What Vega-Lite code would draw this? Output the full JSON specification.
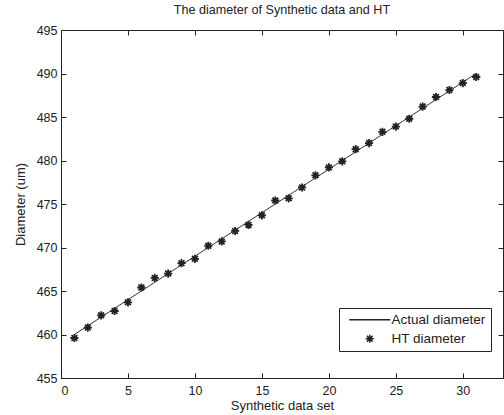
{
  "$schema": "https://vega.github.io/schema/vega-lite/v6.json",
  "width": 442,
  "height": 348,
  "autosize": {"type": "none"},
  "padding": {"left": 61, "top": 30, "right": 1, "bottom": 37},
  "background": "white",
  "config": {
    "font": "Liberation Sans",
    "view": {"stroke": "#222", "strokeWidth": 1},
    "axis": {"grid": false, "domainColor": "#222", "tickColor": "#222", "labelColor": "#222", "titleColor": "#222", "labelFontSize": 12.5, "titleFontSize": 13, "titleFontWeight": "normal", "labelFont": "Liberation Sans", "titleFont": "Liberation Sans"}
  },
  "title": {"text": "The diameter of Synthetic data and HT", "fontSize": 12.6, "fontWeight": "normal", "color": "#222", "font": "Liberation Sans", "offset": 7, "anchor": "middle"},
  "data": {"values": [
    {"x": 1, "actual": 460, "ht": 459.6},
    {"x": 2, "actual": 461, "ht": 460.8},
    {"x": 3, "actual": 462, "ht": 462.2},
    {"x": 4, "actual": 463, "ht": 462.7},
    {"x": 5, "actual": 464, "ht": 463.7},
    {"x": 6, "actual": 465, "ht": 465.4},
    {"x": 7, "actual": 466, "ht": 466.5},
    {"x": 8, "actual": 467, "ht": 467.0},
    {"x": 9, "actual": 468, "ht": 468.2},
    {"x": 10, "actual": 469, "ht": 468.7},
    {"x": 11, "actual": 470, "ht": 470.2},
    {"x": 12, "actual": 471, "ht": 470.7},
    {"x": 13, "actual": 472, "ht": 471.9},
    {"x": 14, "actual": 473, "ht": 472.6},
    {"x": 15, "actual": 474, "ht": 473.7},
    {"x": 16, "actual": 475, "ht": 475.4},
    {"x": 17, "actual": 476, "ht": 475.65},
    {"x": 18, "actual": 477, "ht": 476.9},
    {"x": 19, "actual": 478, "ht": 478.3},
    {"x": 20, "actual": 479, "ht": 479.2},
    {"x": 21, "actual": 480, "ht": 479.9},
    {"x": 22, "actual": 481, "ht": 481.3},
    {"x": 23, "actual": 482, "ht": 482.0},
    {"x": 24, "actual": 483, "ht": 483.3},
    {"x": 25, "actual": 484, "ht": 483.9},
    {"x": 26, "actual": 485, "ht": 484.8},
    {"x": 27, "actual": 486, "ht": 486.2},
    {"x": 28, "actual": 487, "ht": 487.3},
    {"x": 29, "actual": 488, "ht": 488.1},
    {"x": 30, "actual": 489, "ht": 488.9},
    {"x": 31, "actual": 490, "ht": 489.6}
  ]},
  "layer": [
    {
      "mark": {"type": "line", "color": "#333", "strokeWidth": 1},
      "encoding": {
        "x": {"field": "x", "type": "quantitative", "scale": {"domain": [0, 33], "nice": false, "zero": false},
              "axis": {"orient": "bottom", "values": [0, 5, 10, 15, 20, 25, 30], "tickSize": -5, "labelPadding": 11, "title": "Synthetic data set", "titlePadding": 3}},
        "y": {"field": "actual", "type": "quantitative", "scale": {"domain": [455, 495], "nice": false, "zero": false},
              "axis": {"orient": "left", "values": [455, 460, 465, 470, 475, 480, 485, 490, 495], "tickSize": -5, "labelPadding": 9, "title": "Diameter (um)", "titlePadding": 9}}
      }
    },
    {
      "mark": {"type": "point", "filled": false, "stroke": "#222", "strokeWidth": 1.8, "size": 67, "opacity": 1},
      "encoding": {
        "x": {"field": "x", "type": "quantitative",
              "axis": {"orient": "top", "values": [0, 5, 10, 15, 20, 25, 30], "tickSize": -5, "labels": false, "title": null, "domain": false}},
        "y": {"field": "ht", "type": "quantitative",
              "axis": {"orient": "right", "values": [455, 460, 465, 470, 475, 480, 485, 490, 495], "tickSize": -5, "labels": false, "title": null, "domain": false}},
        "shape": {"datum": "HT diameter",
                  "scale": {"domain": ["Actual diameter", "HT diameter"], "range": ["M-5,0H5", "M-1,0H1M0,-1V1M-0.7,-0.7L0.7,0.7M-0.7,0.7L0.7,-0.7"]},
                  "legend": {"title": null, "orient": "none", "legendX": 278, "legendY": 278, "strokeColor": "#222", "fillColor": "white", "padding": 5, "labelFontSize": 13.5, "labelColor": "#222", "labelFont": "Liberation Sans", "symbolSize": 67, "symbolStrokeColor": "#222", "symbolStrokeWidth": 1.5, "symbolFillColor": "transparent", "symbolOffset": 19, "rowPadding": 4, "labelOffset": 15}}
      }
    }
  ],
  "resolve": {"axis": {"x": "independent", "y": "independent"}}
}
